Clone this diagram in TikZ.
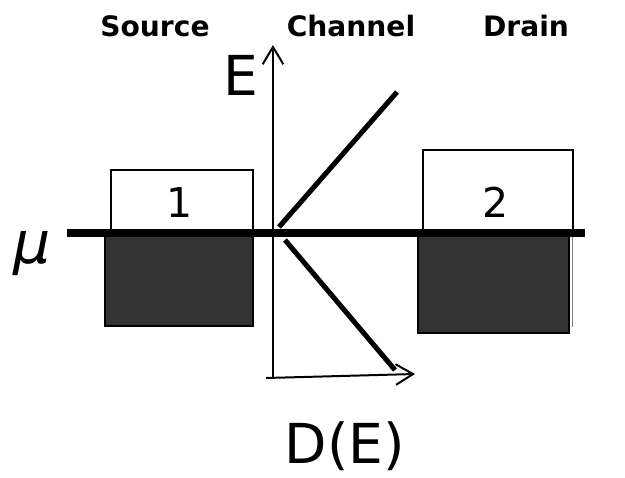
\documentclass[tikz,border=0pt]{standalone}
\usepackage{fontspec}
\setmainfont{DejaVu Sans}
\usetikzlibrary{arrows.meta}
\definecolor{filledstates}{HTML}{333333}
\begin{document}
\begin{tikzpicture}[x=0.03cm,y=-0.03cm,
  boxline/.style={line width=1.1pt},
  axisarrow/.style={line width=1.7pt,
    -{Straight Barb[length=0.52cm,width=0.62cm,line width=1.7pt]}},
  dosline/.style={line width=4.3pt},
  muline/.style={line width=6pt},
  heading/.style={font=\bfseries\fontsize{24}{28}\selectfont, inner sep=0pt, anchor=base},
  biglabel/.style={font=\fontsize{47}{54}\selectfont, inner sep=0pt, anchor=base},
  numlabel/.style={font=\fontsize{35}{42}\selectfont, inner sep=0pt, anchor=base}]
\useasboundingbox (0,0) rectangle (625,477);

% contact reservoirs: empty states above, filled states below
\draw[boxline, fill=white] (111,170) rectangle (253,232);
\draw[boxline, fill=white] (423,150) rectangle (573,232);
\draw[gray, line width=0.8pt] (572,237) -- (572,327);
\draw[boxline, fill=filledstates] (105,232) rectangle (253,326);
\draw[boxline, fill=filledstates] (418,232) rectangle (569,333);

% axes of the density of states
\coordinate (ebottom) at (273,378);
\coordinate (etop) at (273,45);
\coordinate (dleft) at (266,378);
\coordinate (dright) at (415,374);
\draw[axisarrow] (ebottom) -- (etop);
\draw[axisarrow] (dleft) -- (dright);

% channel density of states
\coordinate (upA) at (279,227);
\coordinate (upB) at (397,92);
\coordinate (loA) at (285,240);
\coordinate (loB) at (395,370);
\draw[dosline] (upA) -- (upB);
\draw[dosline] (loA) -- (loB);

% electrochemical potential
\coordinate (muL) at (67,233);
\coordinate (muR) at (585,233);
\draw[muline] (muL) -- (muR);

% labels
\node[heading] (src) at (155,36) {Source};
\node[heading] (chn) at (351,36) {Channel};
\node[heading] (drn) at (526,36) {Drain};
\node[biglabel] (elab) at (241,95) {E};
\node[biglabel] (dlab) at (345,463) {D(E)};
\node[numlabel] (one) at (180,217) {1};
\node[numlabel] (two) at (496,217) {2};
\node[font=\itshape\fontsize{50}{56}\selectfont, inner sep=0pt] (mu) at (32,254) {μ};
\end{tikzpicture}
\end{document}
